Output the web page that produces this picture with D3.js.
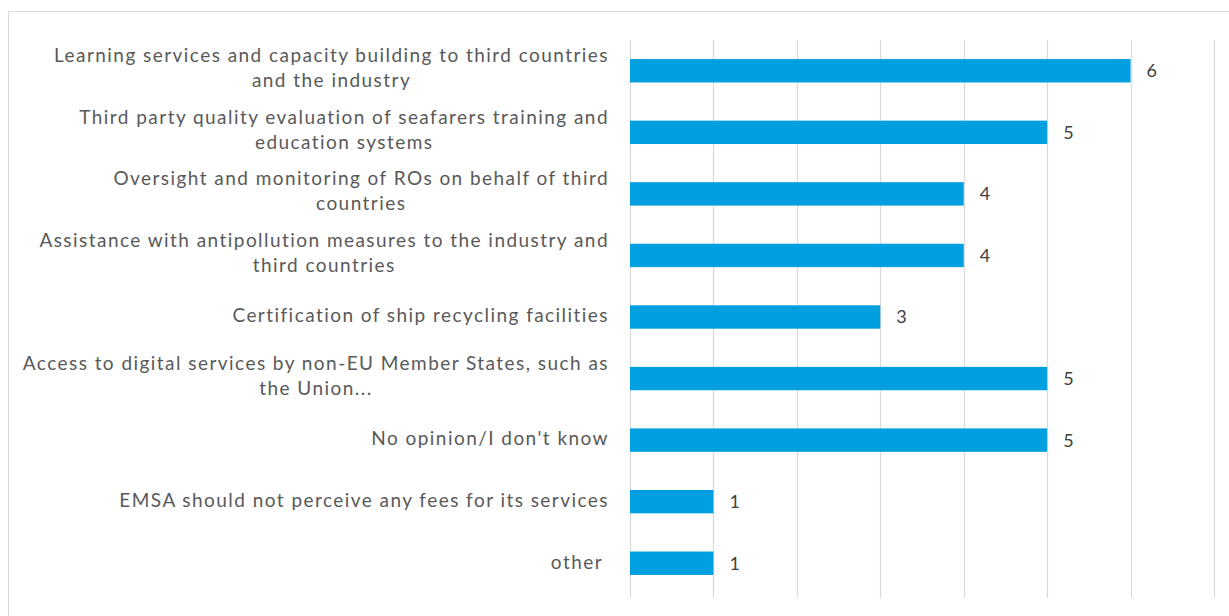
<!DOCTYPE html>
<html>
<head>
<meta charset="utf-8">
<script src="https://cdn.jsdelivr.net/npm/d3@7"></script>
<style>
  html, body { margin: 0; padding: 0; background: #fff; }
  svg { display: block; }
  text { font-family: Lato, "Open Sans", sans-serif; }
</style>
</head>
<body>
<svg id="chart" width="1229" height="616"></svg>
<script>
const categories = [
  "Learning services and capacity building to third countries\nand the industry",
  "Third party quality evaluation of seafarers training and\neducation systems",
  "Oversight and monitoring of ROs on behalf of third\ncountries",
  "Assistance with antipollution measures to the industry and\nthird countries",
  "Certification of ship recycling facilities",
  "Access to digital services by non-EU Member States, such as\nthe Union...",
  "No opinion/I don't know",
  "EMSA should not perceive any fees for its services",
  "other "
];
const values = [6, 5, 4, 4, 3, 5, 5, 1, 1];
const xTicks = [0, 1, 2, 3, 4, 5, 6, 7];

const svg = d3.select("#chart");
const W = 1229, H = 616;

// chart border
svg.append("rect")
  .attr("x", 8.5).attr("y", 11.5)
  .attr("width", W + 10).attr("height", H + 10)
  .attr("fill", "#fff").attr("stroke", "#d9d9d9").attr("stroke-width", 1);

const x = d3.scaleLinear().domain([0, 7]).range([630, 1214]);
const y = d3.scaleBand().domain(d3.range(categories.length)).range([40, 594]).paddingInner(0.62).paddingOuter(0.31);

// gridlines
svg.append("g")
  .selectAll("line")
  .data(xTicks)
  .join("line")
  .attr("x1", d => Math.round(x(d)) + 0.5)
  .attr("x2", d => Math.round(x(d)) + 0.5)
  .attr("y1", 40).attr("y2", 598)
  .attr("stroke", "#d9d9d9").attr("stroke-width", 1.2);

// bars
svg.append("g")
  .selectAll("rect")
  .data(values)
  .join("rect")
  .attr("x", x(0))
  .attr("y", (d, i) => y(i))
  .attr("width", d => x(d) - x(0))
  .attr("height", y.bandwidth())
  .attr("fill", "#009fdf");

// value labels
svg.append("g")
  .selectAll("text")
  .data(values)
  .join("text")
  .attr("x", d => x(d) + 16)
  .attr("y", (d, i) => y(i) + y.bandwidth() / 2)
  .attr("dy", "0.36em")
  .attr("font-size", 18)
  .attr("fill", "#404040")
  .text(d => d);

// category labels
const lineH = 25;
const labelRight = 609;
const lg = svg.append("g");
categories.forEach((c, i) => {
  const lines = c.split("\n");
  const cy = y(i) + y.bandwidth() / 2 - (lines.length > 1 ? 3 : 1.5);
  const t = lg.append("text")
    .attr("font-size", 19)
    .attr("letter-spacing", 1.45)
    .attr("fill", "#595959")
    .attr("text-anchor", "middle")
    .attr("xml:space", "preserve");
  lines.forEach((ln, k) => {
    t.append("tspan")
      .attr("x", 0)
      .attr("y", cy + (k - (lines.length - 1) / 2) * lineH)
      .attr("dy", "0.36em")
      .text(ln);
  });
  const w = t.node().getBBox().width;
  t.selectAll("tspan").attr("x", labelRight - w / 2);
});
</script>
</body>
</html>
